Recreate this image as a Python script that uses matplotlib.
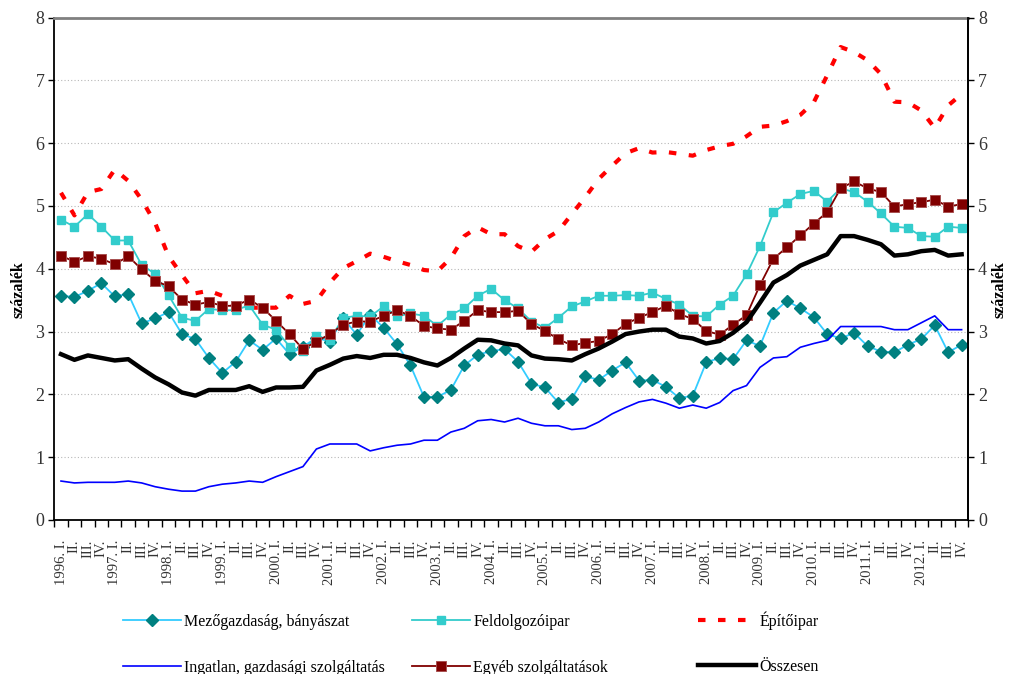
import numpy as np
import matplotlib
matplotlib.use("Agg")
import matplotlib.pyplot as plt

years = list(range(1996, 2013))
quarters = ["I.", "II.", "III.", "IV."]
tick_labels = []
for y in years:
    for qi, q in enumerate(quarters):
        tick_labels.append(f"{y}. {q}" if qi == 0 else q)

mezo = [3.57,3.55,3.65,3.77,3.56,3.60,3.13,3.21,3.31,2.96,
        2.88,2.58,2.34,2.52,2.86,2.71,2.89,2.64,2.76,2.90,
        2.84,3.21,2.95,3.27,3.06,2.80,2.46,1.96,1.96,2.07,
        2.46,2.63,2.69,2.72,2.52,2.17,2.11,1.87,1.93,2.29,
        2.23,2.38,2.51,2.22,2.23,2.12,1.94,1.98,2.51,2.58,
        2.56,2.86,2.77,3.30,3.49,3.37,3.23,2.96,2.89,2.98,
        2.77,2.68,2.67,2.79,2.88,3.10,2.67,2.79]
feldolgozo = [4.78,4.67,4.87,4.67,4.45,4.45,4.06,3.92,3.58,3.22,
              3.17,3.36,3.34,3.34,3.42,3.11,3.03,2.76,2.69,2.93,
              2.87,3.22,3.25,3.24,3.40,3.24,3.29,3.25,3.09,3.27,
              3.37,3.57,3.68,3.50,3.37,3.16,3.06,3.22,3.40,3.48,
              3.57,3.57,3.58,3.57,3.62,3.52,3.43,3.25,3.24,3.43,
              3.57,3.91,4.36,4.90,5.05,5.19,5.24,5.07,5.28,5.22,
              5.07,4.88,4.67,4.65,4.52,4.51,4.67,4.65]
epito = [5.21,4.85,5.22,5.27,5.58,5.40,5.10,4.73,4.20,3.90,
         3.61,3.65,3.57,3.39,3.38,3.38,3.38,3.57,3.44,3.49,
         3.78,4.01,4.12,4.24,4.19,4.12,4.06,3.98,3.96,4.17,
         4.52,4.66,4.55,4.55,4.36,4.27,4.47,4.60,4.87,5.14,
         5.43,5.64,5.84,5.92,5.85,5.86,5.83,5.80,5.89,5.95,
         5.99,6.11,6.26,6.28,6.35,6.45,6.65,7.08,7.53,7.45,
         7.32,7.10,6.66,6.65,6.52,6.24,6.60,6.78]
ingatlan = [0.62,0.59,0.60,0.60,0.60,0.62,0.59,0.53,0.49,0.46,
            0.46,0.53,0.57,0.59,0.62,0.60,0.69,0.77,0.85,1.13,
            1.21,1.21,1.21,1.10,1.15,1.19,1.21,1.27,1.27,1.40,
            1.46,1.58,1.60,1.56,1.62,1.54,1.50,1.50,1.44,1.46,
            1.56,1.69,1.79,1.88,1.92,1.86,1.78,1.83,1.78,1.87,
            2.06,2.14,2.43,2.58,2.60,2.75,2.81,2.86,3.08,3.08,
            3.08,3.08,3.03,3.03,3.14,3.25,3.03,3.03]
egyeb = [4.21,4.11,4.20,4.16,4.07,4.20,3.99,3.81,3.72,3.51,
         3.43,3.47,3.41,3.41,3.51,3.38,3.17,2.96,2.72,2.84,
         2.96,3.11,3.16,3.16,3.25,3.34,3.25,3.09,3.05,3.03,
         3.17,3.34,3.31,3.31,3.33,3.12,3.01,2.88,2.78,2.82,
         2.85,2.96,3.12,3.22,3.31,3.41,3.28,3.20,3.01,2.95,
         3.11,3.26,3.74,4.16,4.34,4.53,4.72,4.90,5.28,5.39,
         5.28,5.22,4.99,5.03,5.06,5.10,4.99,5.03]
osszesen = [2.64,2.55,2.62,2.58,2.54,2.56,2.41,2.27,2.16,2.03,
            1.98,2.07,2.07,2.07,2.13,2.04,2.11,2.11,2.12,2.38,
            2.47,2.57,2.61,2.58,2.63,2.63,2.58,2.51,2.46,2.58,
            2.73,2.87,2.86,2.81,2.78,2.62,2.57,2.56,2.54,2.64,
            2.73,2.84,2.96,3.00,3.03,3.03,2.92,2.89,2.81,2.85,
            2.98,3.15,3.46,3.78,3.90,4.05,4.14,4.23,4.52,4.52,
            4.46,4.39,4.21,4.23,4.28,4.30,4.21,4.23]

names = ["Mezőgazdaság, bányászat", "Feldolgozóipar", "Építőipar",
         "Ingatlan, gazdasági szolgáltatás", "Egyéb szolgáltatások", "Összesen"]

serif = ["Liberation Serif", "DejaVu Serif"]
plt.rcParams['font.family'] = serif

fig = plt.figure(figsize=(10.09, 6.74), dpi=100)
ax = fig.add_axes([0.0538, 0.2285, 0.9059, 0.7455])
x = np.arange(len(tick_labels))

h_mezo, = ax.plot(x, mezo, color='#33CCFF', lw=1.3, marker='D', ms=6,
                  mfc='#008080', mec='#008080', zorder=3)
h_feld, = ax.plot(x, feldolgozo, color='#33CCCC', lw=1.3, marker='s', ms=6,
                  mfc='#33CCCC', mec='#33CCCC', zorder=3)
h_epit, = ax.plot(x, epito, color='#FF0000', lw=3.0, linestyle=(0, (1.8, 3.0)),
                  dash_capstyle='butt', zorder=2)
h_ing, = ax.plot(x, ingatlan, color='#0000FF', lw=1.2, zorder=3)
h_egy, = ax.plot(x, egyeb, color='#800000', lw=1.3, marker='s', ms=6.5,
                 mfc='#800000', mec='#A85050', mew=0.7, zorder=4)
h_ossz, = ax.plot(x, osszesen, color='black', lw=3.2, zorder=5)

ax.set_xlim(-0.5, len(x) - 0.5)
ax.set_ylim(0, 8)
ax.set_yticks(range(9))
ax.set_yticklabels([str(v) for v in range(9)], fontsize=13, color='#333333')
for v in range(1, 8):
    ax.axhline(v, color='#b8b8b8', lw=0.8, linestyle=(0, (1, 2)), zorder=1)

ax.set_xticks(x)
ax.set_xticklabels(tick_labels, rotation=90, fontsize=10.5, color='#333333',
                   va='top', ha='center')
ax.set_xticks(np.arange(-0.5, len(x), 1), minor=True)
ax.tick_params(axis='x', which='major', length=0, pad=14)
ax.tick_params(axis='x', which='minor', length=5, width=1, direction='out')
ax.tick_params(axis='y', length=4, width=1, direction='out', pad=3)

for s in ['left', 'right', 'bottom']:
    ax.spines[s].set_color('black')
    ax.spines[s].set_linewidth(1.3)
ax.spines['top'].set_color('#808080')
ax.spines['top'].set_linewidth(2)

ax2 = ax.twinx()
ax2.set_ylim(0, 8)
ax2.set_yticks(range(9))
ax2.set_yticklabels([str(v) for v in range(9)], fontsize=13, color='#333333')
ax2.tick_params(axis='y', length=4, width=1, direction='out', pad=3)
for s in ax2.spines.values():
    s.set_visible(False)
ax2.spines['right'].set_visible(True)
ax2.spines['right'].set_color('black')
ax2.spines['right'].set_linewidth(1.3)

fig.text(0.018, 0.57, "százalék", rotation=90, fontsize=11.5, weight='bold',
         ha='center', va='center')
fig.text(0.991, 0.57, "százalék", rotation=90, fontsize=11.5, weight='bold',
         ha='center', va='center')

groups = [([h_mezo, h_ing], [names[0], names[3]], 123, 614),
          ([h_feld, h_egy], [names[1], names[4]], 412, 614),
          ([h_epit, h_ossz], [names[2], names[5]], 698, 611)]
for hs, ls, px, py in groups:
    fig.legend(hs, ls, loc='upper left', bbox_to_anchor=(px / 1009, 1 - py / 674),
               frameon=False, fontsize=11.5, handlelength=3.6, handletextpad=0.25,
               labelspacing=1.85, borderpad=0, borderaxespad=0)

fig.savefig("out.png", dpi=100)
